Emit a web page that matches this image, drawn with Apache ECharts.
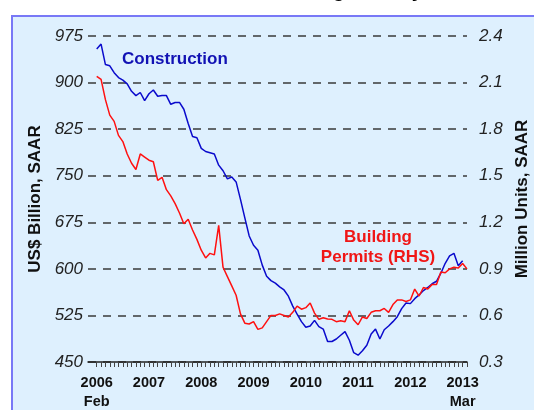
<!DOCTYPE html>
<html>
<head>
<meta charset="utf-8">
<script src="https://cdn.jsdelivr.net/npm/echarts@6/dist/echarts.min.js"></script>
<style>
html, body { margin: 0; padding: 0; background: #ffffff; }
#chart { width: 534px; height: 410px; }
</style>
</head>
<body>
<div id="chart"></div>
<script>
// monthly, Feb 2006 .. Mar 2013
var construction = [954, 962, 929, 927, 916, 908, 904, 898, 886, 879,
  884, 871, 882, 888, 878, 879, 879, 865, 868, 868,
  857, 834, 813, 811, 794, 789, 787, 785, 767, 758,
  745, 748, 740, 712, 682, 653, 638, 630, 606, 588,
  581, 577, 571, 566, 556, 540, 527, 515, 506, 508,
  517, 507, 503, 483, 483, 487, 493, 499, 485, 465,
  461, 468, 477, 495, 503, 487, 502, 508, 515, 523,
  536, 545, 544, 552, 558, 565, 570, 576, 580, 593,
  609, 621, 625, 605, 613, null];
var permits = [2.14, 2.12, 1.99, 1.89, 1.85, 1.76, 1.72, 1.64, 1.58, 1.54,
  1.64, 1.62, 1.60, 1.59, 1.47, 1.49, 1.41, 1.37, 1.32, 1.26,
  1.19, 1.22, 1.15, 1.09, 1.02, 0.97, 1.00, 0.99, 1.18, 0.91,
  0.85, 0.79, 0.73, 0.61, 0.55, 0.545, 0.56, 0.51, 0.52, 0.56,
  0.60, 0.60, 0.61, 0.60, 0.59, 0.62, 0.66, 0.64, 0.65, 0.68,
  0.615, 0.575, 0.585, 0.577, 0.575, 0.56, 0.565, 0.56, 0.63, 0.57,
  0.54, 0.59, 0.58, 0.62, 0.63, 0.63, 0.645, 0.62, 0.67, 0.70,
  0.70, 0.69, 0.70, 0.77, 0.725, 0.78, 0.77, 0.80, 0.80, 0.88,
  0.875, 0.90, 0.91, 0.905, 0.935, 0.90];
var leftTicks = [450, 975, 75];
var rightTicks = [0.3, 2.4, 0.3];

// two empty months in front (Dec 2005, Jan 2006) give the left padding
var months = [];
for (var i = 0; i < construction.length + 2; i++) {
  var y = 2005 + Math.floor((11 + i) / 12);
  var m = (11 + i) % 12 + 1;
  months.push(y + '-' + (m < 10 ? '0' : '') + m);
}
var pad = [null, null];

var myChart = echarts.init(document.getElementById('chart'));
var font = 'Liberation Sans, Arial, sans-serif';
var option = {
  animation: false,
  title: {
    text: 'Construction & Building Activity',
    left: 110,
    top: -24,
    textStyle: { fontFamily: font, fontSize: 20, fontWeight: 'bold', color: '#000' }
  },
  graphic: [
    {
      type: 'rect', z: -100, silent: true,
      shape: { x: 12, y: 16, width: 700, height: 600 },
      style: { fill: '#DEF0FE', stroke: '#7878F6', lineWidth: 2 }
    },
    {
      type: 'text', x: 122, y: 51, z: 10,
      style: { text: 'Construction', fill: '#1212B4', font: 'bold 17px ' + font }
    },
    {
      type: 'text', x: 378, y: 227, z: 10,
      style: { text: 'Building\nPermits (RHS)', fill: '#F01616', font: 'bold 17px ' + font,
        align: 'center', verticalAlign: 'top', lineHeight: 20 }
    }
  ],
  grid: { left: 88, right: 67, top: 36, bottom: 48, outerBoundsMode: 'none' },
  xAxis: {
    type: 'category',
    data: months,
    boundaryGap: false,
    axisLine: { lineStyle: { color: '#222', width: 1.5 } },
    axisTick: {
      interval: function (idx) { return idx >= 2; },
      length: 5,
      lineStyle: { color: '#444' }
    },
    axisLabel: {
      interval: function (idx) { return idx >= 2 && (idx - 2) % 12 === 0; },
      margin: 11,
      fontFamily: font, fontSize: 14.5, fontWeight: 'bold', color: '#111',
      lineHeight: 19,
      formatter: function (val, idx) {
        var yr = val.slice(0, 4);
        if (idx === 2) return yr + '\nFeb';
        if (idx === months.length - 2) return yr + '\nMar';
        return yr;
      }
    },
    splitLine: { show: false }
  },
  yAxis: [
    {
      type: 'value',
      min: leftTicks[0], max: leftTicks[1], interval: leftTicks[2],
      name: 'US$ Billion, SAAR',
      nameLocation: 'middle',
      nameGap: 41,
      nameTextStyle: { fontFamily: font, fontSize: 17, fontWeight: 'bold', color: '#111' },
      axisLine: { show: false },
      axisTick: { show: false },
      axisLabel: { margin: 5, fontFamily: font, fontSize: 17, fontStyle: 'italic', color: '#222' },
      splitLine: { lineStyle: { color: '#3a3a3a', width: 1.5, type: [8, 7] } }
    },
    {
      type: 'value',
      min: rightTicks[0], max: rightTicks[1], interval: rightTicks[2],
      name: 'Million Units, SAAR',
      nameLocation: 'middle',
      nameGap: 44,
      nameTextStyle: { fontFamily: font, fontSize: 17, fontWeight: 'bold', color: '#111' },
      axisLine: { show: false },
      axisTick: { show: false },
      axisLabel: {
        margin: 12, fontFamily: font, fontSize: 17, fontStyle: 'italic', color: '#222',
        formatter: function (v) { return v.toFixed(1); }
      },
      splitLine: { show: false }
    }
  ],
  series: [
    {
      name: 'Construction',
      type: 'line',
      yAxisIndex: 0,
      data: pad.concat(construction),
      showSymbol: false,
      lineStyle: { color: '#0A0ACC', width: 1.5 },
      itemStyle: { color: '#0A0ACC' }
    },
    {
      name: 'Building Permits (RHS)',
      type: 'line',
      yAxisIndex: 1,
      data: pad.concat(permits),
      showSymbol: false,
      lineStyle: { color: '#FF1010', width: 1.5 },
      itemStyle: { color: '#FF1010' }
    }
  ]
};
myChart.setOption(option);
</script>
</body>
</html>
